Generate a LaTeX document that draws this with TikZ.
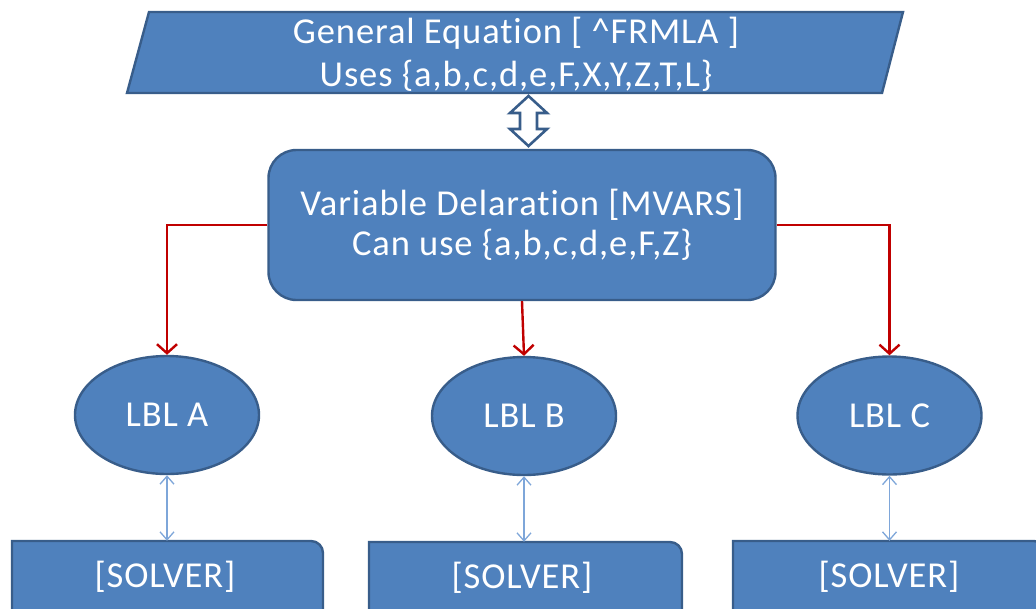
\documentclass[tikz,border=0pt]{standalone}
\usepackage{fontspec}
\setmainfont{Carlito}[LetterSpace=2.5,Ligatures=NoCommon]
\usetikzlibrary{arrows.meta,shapes.geometric}
\definecolor{ofblue}{HTML}{4F81BD}
\definecolor{ofline}{HTML}{385D8A}
\definecolor{ofred}{HTML}{C00000}
\definecolor{thinblue}{HTML}{7EA6D9}
\begin{document}
\begin{tikzpicture}[x=1pt,y=-1pt,
  blueshape/.style={fill=ofblue,draw=ofline,line width=2.4pt},
  lbl/.style={text=white,font=\fontsize{36.5}{40}\selectfont,align=center,inner sep=0pt},
  ovalnode/.style={ellipse,blueshape,lbl,minimum width=184pt,minimum height=118pt},
  solvernode/.style={lbl,minimum height=72pt},
  hollowarrow/.style={fill=white,draw=ofline,line width=2.6pt,line join=miter},
  redarrow/.style={draw=ofred,line width=2.4pt,-{Straight Barb[length=9pt,width=20pt]}},
  thinarrow/.style={draw=thinblue,line width=1.3pt,{Straight Barb[length=8pt,width=14pt]}-{Straight Barb[length=8pt,width=14pt]}},
]
\useasboundingbox (0,0) rectangle (1036,608);
% shapes behind texts
\draw[blueshape] (149,12) -- (903,12) -- (882,93) -- (127,93) -- cycle;
\draw[blueshape] (12,680) -- (12,541) -- (311,541) arc[start angle=90,end angle=0,radius=12pt] -- (323,680) -- cycle;
\draw[blueshape] (369,680) -- (369,542) -- (670,542) arc[start angle=90,end angle=0,radius=12pt] -- (682,680) -- cycle;
\draw[blueshape] (733,680) -- (733,541) -- (1034,541) arc[start angle=90,end angle=0,radius=12pt] -- (1046,680) -- cycle;
% nodes
\node[lbl,font=\fontsize{36.5}{43}\selectfont] (gen) at (516,54) {General Equation [ \textasciicircum FRMLA ]\\Uses \{a,b,c,d,e,F,X,Y,Z,T,L\}};
\node[blueshape,lbl,rounded corners=28pt,minimum width=507pt,minimum height=150pt] (mid) at (522,225) {Variable Delaration [MVARS]\\Can use \{a,b,c,d,e,F,Z\}};
\node[ovalnode] (lblA) at (167,415) {LBL A};
\node[ovalnode] (lblB) at (524,416) {LBL B};
\node[ovalnode] (lblC) at (889.5,415.5) {LBL C};
\node[solvernode] (s1) at (165,577) {[SOLVER]};
\node[solvernode] (s2) at (522,578) {[SOLVER]};
\node[solvernode] (s3) at (889,577) {[SOLVER]};
% hollow double arrow between general equation and declaration
\coordinate (dt) at (528.5,96);
\coordinate (db) at (528.5,146);
\draw[hollowarrow] (dt) -- ++(18.5,17) -- ++(-10,0) -- ++(0,16) -- ++(10,0) -- (db)
  -- ++(-18.5,-17) -- ++(10,0) -- ++(0,-16) -- ++(-10,0) -- cycle;
% red arrows
\draw[redarrow] (mid.west) -| (lblA.north);
\draw[redarrow] (mid.south) -- (lblB.north);
\draw[redarrow] (mid.east) -| (lblC.north);
% thin double arrows
\draw[thinarrow] (lblA.south) -- (lblA.south |- s1.north);
\draw[thinarrow] (lblB.south) -- (lblB.south |- s2.north);
\draw[thinarrow] (lblC.south) -- (lblC.south |- s3.north);
\end{tikzpicture}
\end{document}
